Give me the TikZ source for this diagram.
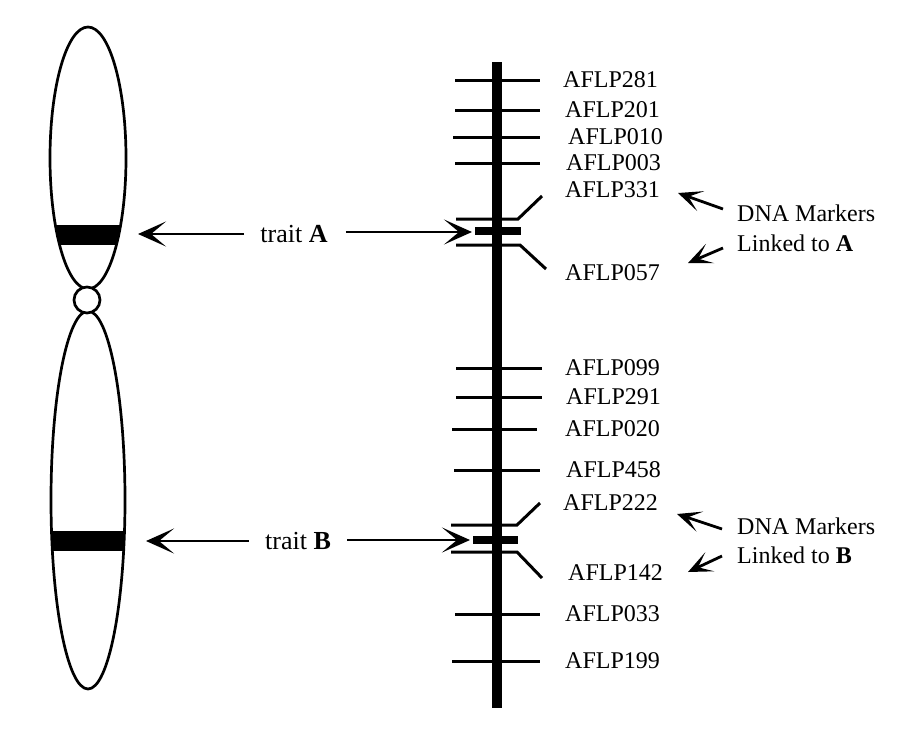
\documentclass[tikz,border=0pt]{standalone}
\usepackage{fontspec}
\setmainfont{Liberation Serif}
\usetikzlibrary{arrows.meta}

\begin{document}
\begin{tikzpicture}[x=1pt, y=-1pt,
  tick/.style={line width=3pt},
  outline/.style={line width=2.7pt},
  lbl/.style={anchor=west, inner sep=0pt, font=\fontsize{24}{28}\selectfont},
  pointer/.style={line width=2.8pt, -{Stealth[length=28pt, width=25pt, inset=15pt]}},
  smallpointer/.style={line width=2.8pt, -{Stealth[length=24pt, width=21pt, inset=13pt]}}]
  \useasboundingbox (0,0) rectangle (905,729);

  % chromosome with the two bands
  \begin{scope}
    \clip (88,158) ellipse (38pt and 131pt);
    \fill[black] (40,225) rectangle (140,245);
  \end{scope}
  \begin{scope}
    \clip (88,500) ellipse (37pt and 189pt);
    \fill[black] (40,531) rectangle (140,551);
  \end{scope}
  \draw[outline] (88,158) ellipse (38pt and 131pt);
  \draw[outline] (88,500) ellipse (37pt and 189pt);
  \draw[outline, fill=white] (87,300) circle (13pt);

  % linkage map bar
  \fill[black] (492,62) rectangle (502,708);

  % single markers
  \foreach \y/\xa/\xb/\xl/\name in {80/455/540/563/281, 110/455/540/565/201,
      137/453/540/568/010, 163/455/540/566/003, 368/456/542/565/099,
      397/456/542/566/291, 429/452/537/565/020, 470/454/540/566/458,
      614/455/540/565/033, 661/452/540/565/199} {
    \draw[tick] (\xa,\y) -- (\xb,\y);
    \node[lbl] (m\name) at (\xl,\y) {AFLP\name};
  }

  % markers linked to trait A
  \draw[tick] (456,219) -- (518,219) -- (542,196);
  \draw[tick] (456,245) -- (520,245) -- (546,269);
  \fill[black] (475,227) rectangle (521,235);
  \coordinate (locA) at (472,232);
  \node[lbl] (m331) at (565,190) {AFLP331};
  \node[lbl] (m057) at (565,273) {AFLP057};

  % markers linked to trait B
  \draw[tick] (451,525) -- (517,525) -- (540,503);
  \draw[tick] (451,552) -- (517,552) -- (542,578);
  \fill[black] (473,536) rectangle (518,544);
  \coordinate (locB) at (470,540);
  \node[lbl] (m222) at (563,503) {AFLP222};
  \node[lbl] (m142) at (568,573) {AFLP142};

  % trait labels and arrows
  \node[lbl, anchor=center, font=\fontsize{26}{30}\selectfont] (traitA) at (294,234) {trait \textbf{A}};
  \node[lbl, anchor=center, font=\fontsize{26}{30}\selectfont] (traitB) at (298,541) {trait \textbf{B}};
  \coordinate (bandA) at (138,234);
  \coordinate (bandB) at (146,541);
  \draw[pointer, shorten <=16pt] (traitA.west) -- (bandA);
  \draw[pointer, shorten <=18pt] (traitA.east |- locA) -- (locA);
  \draw[pointer, shorten <=16pt] (traitB.west) -- (bandB);
  \draw[pointer, shorten <=16pt] (traitB.east |- locB) -- (locB);

  % notes on the right
  \node[lbl] (dnaA) at (737,213) {DNA Markers};
  \node[lbl] (linkA) at (737,243) {Linked to \textbf{A}};
  \node[lbl] (dnaB) at (737,526) {DNA Markers};
  \node[lbl] (linkB) at (737,555) {Linked to \textbf{B}};
  \coordinate (tailA1) at (723,209);
  \coordinate (tipA1) at (678,193);
  \coordinate (tailA2) at (723,248);
  \coordinate (tipA2) at (688,263);
  \coordinate (tailB1) at (722,529);
  \coordinate (tipB1) at (677,514);
  \coordinate (tailB2) at (722,556);
  \coordinate (tipB2) at (688,572);
  \draw[smallpointer] (tailA1) -- (tipA1);
  \draw[smallpointer] (tailA2) -- (tipA2);
  \draw[smallpointer] (tailB1) -- (tipB1);
  \draw[smallpointer] (tailB2) -- (tipB2);
\end{tikzpicture}
\end{document}
